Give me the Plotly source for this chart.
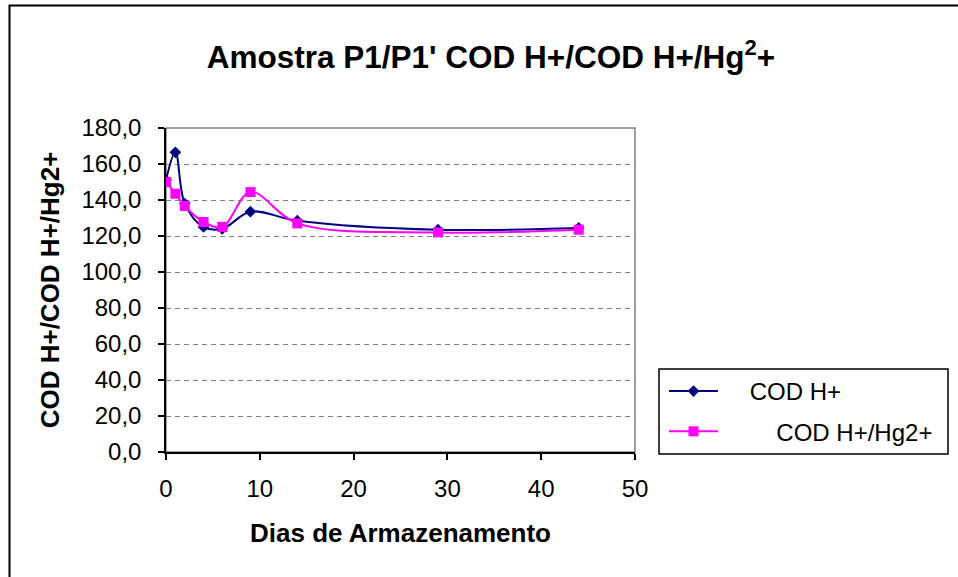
import plotly.graph_objects as go

dias = [0, 1, 2, 4, 6, 9, 14, 29, 44]
cod_h = [151.0, 166.5, 138.0, 125.0, 124.0, 133.5, 128.5, 123.5, 124.5]
cod_h_hg = [150.0, 143.5, 136.7, 127.8, 125.0, 144.4, 127.0, 122.0, 123.5]

x_ticks = [0, 10, 20, 30, 40, 50]
y_ticks = [0, 20, 40, 60, 80, 100, 120, 140, 160, 180]

FONT = "Liberation Sans, Arial, sans-serif"
W, H = 958, 577
L, R, T, B = 166, 323, 128, 125
PW, PH = W - L - R, H - T - B

def px_x(p):
    return (p - L) / PW

def px_y(p):
    return (H - B - p) / PH

NB = "\u00a0"

fig = go.Figure()
fig.add_trace(go.Scatter(
    x=dias, y=cod_h, mode="lines+markers", name=NB * 4 + "COD H+",
    line=dict(color="#000080", width=2, shape="spline", smoothing=1.0),
    marker=dict(symbol="diamond", size=9, color="#000080"),
    legendgroup="a",
))
fig.add_trace(go.Scatter(
    x=dias, y=cod_h_hg, mode="lines+markers", name=NB * 8 + "COD H+/Hg2+",
    line=dict(color="#FF00FF", width=2, shape="spline", smoothing=1.0),
    marker=dict(symbol="square", size=10, color="#FF00FF"),
    legendgroup="b",
))

fig.update_layout(
    width=W, height=H,
    margin=dict(l=L, r=R, t=T, b=B),
    paper_bgcolor="white", plot_bgcolor="white",
    separators=",.",
    font=dict(family=FONT, size=24, color="black"),
    title=dict(
        text="Amostra P1/P1' COD H+/COD H+/Hg<sup>2</sup>+",
        font=dict(family=FONT, size=31.5, color="black", weight="bold"),
        x=px_x(491), xref="paper", xanchor="center",
        y=1 - 57 / H, yref="container", yanchor="middle",
    ),
    xaxis=dict(
        range=[0, 50], tickvals=x_ticks, ticktext=[str(v) for v in x_ticks],
        showgrid=False, zeroline=False,
        showline=True, linecolor="black", linewidth=1.5,
        ticks="outside", ticklen=6, tickwidth=1.5, tickcolor="black",
        tickfont=dict(size=24), ticklabelstandoff=8,
        title=dict(text="Dias de Armazenamento", font=dict(size=26, weight="bold"), standoff=23),
    ),
    yaxis=dict(
        range=[0, 180], tickvals=y_ticks, tickformat=".1f",
        showgrid=True, gridcolor="#808080", gridwidth=1, griddash="5px,4px",
        zeroline=False,
        showline=True, linecolor="black", linewidth=1.5,
        ticks="outside", ticklen=6, tickwidth=1.5, tickcolor="black",
        tickfont=dict(size=24), ticklabelstandoff=12,
        title=dict(text="COD H+/COD H+/Hg2+", font=dict(size=26, weight="bold"), standoff=14),
    ),
    xaxis2=dict(
        range=[0, 50], tickvals=x_ticks, overlaying="x", anchor="y", side="bottom",
        showgrid=False, zeroline=False, showline=False, showticklabels=False,
        ticks="inside", ticklen=5, tickwidth=1.5, tickcolor="black",
    ),
    yaxis2=dict(
        range=[0, 180], tickvals=y_ticks, overlaying="y", anchor="x", side="left",
        showgrid=False, zeroline=False, showline=False, showticklabels=False,
        ticks="inside", ticklen=4, tickwidth=1.5, tickcolor="black",
    ),
    legend=dict(
        x=px_x(664), y=px_y(369), xanchor="left", yanchor="top",
        xref="paper", yref="paper",
        bgcolor="rgba(0,0,0,0)", borderwidth=0,
        font=dict(family=FONT, size=24, color="black"),
        tracegroupgap=6, itemwidth=49,
    ),
    shapes=[
        dict(type="rect", xref="paper", yref="paper", x0=0, x1=1, y0=0, y1=1,
             line=dict(color="#808080", width=1.5), layer="below"),
        dict(type="rect", xref="paper", yref="paper",
             x0=px_x(659), x1=px_x(948), y0=px_y(454), y1=px_y(369),
             line=dict(color="black", width=1.5), fillcolor="white", layer="below"),
        dict(type="rect", xref="paper", yref="paper",
             x0=px_x(9.5), x1=px_x(W + 50), y0=px_y(H + 50), y1=px_y(5.5),
             line=dict(color="black", width=2), layer="below"),
    ],
)

fig.write_html(
    "out.html",
    config={"displayModeBar": False},
    post_script="document.body.style.margin='0';document.body.style.overflow='hidden';",
)
